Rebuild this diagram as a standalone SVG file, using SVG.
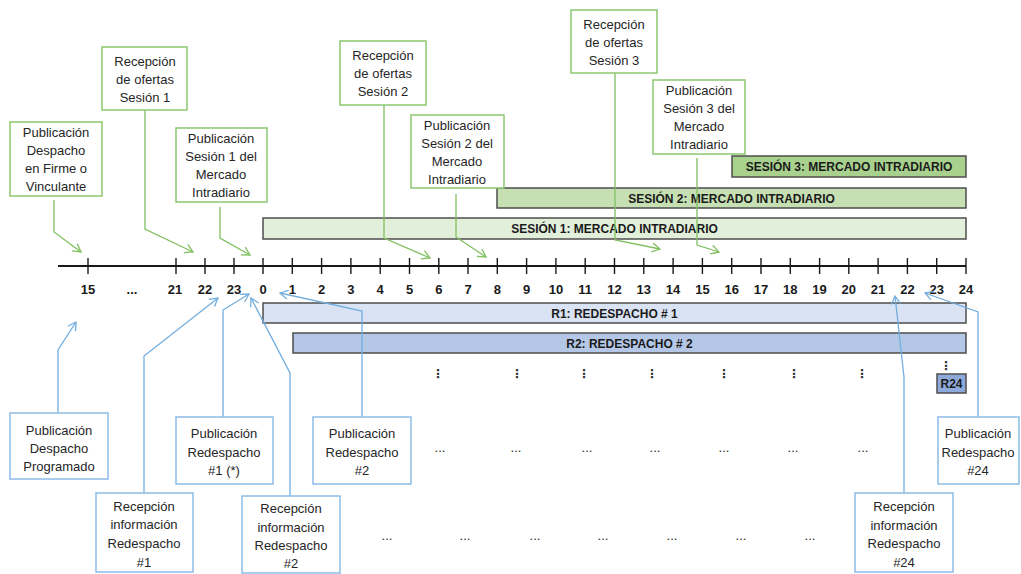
<svg xmlns="http://www.w3.org/2000/svg" width="1021" height="574" viewBox="0 0 1021 574">
<style>
.t{font-family:"Liberation Sans",Arial,sans-serif;font-size:13px;fill:#262626;text-anchor:middle}
.ax{font-family:"Liberation Sans",Arial,sans-serif;font-size:13px;font-weight:bold;fill:#1a1a1a;text-anchor:middle}
.bt{font-family:"Liberation Sans",Arial,sans-serif;font-size:12px;font-weight:bold;fill:#1a1a1a;text-anchor:middle}
.dots{font-family:"DejaVu Sans",sans-serif;font-size:12px;font-weight:bold;fill:#333;text-anchor:middle}
.gb{fill:#fff;stroke:#8cc870;stroke-width:1.5}
.bb{fill:#fff;stroke:#8dbce6;stroke-width:1.5}
.bar{stroke:#4d4d4d;stroke-width:1.5}
.gl{fill:none;stroke:#80c060;stroke-width:1.3;marker-end:url(#ga)}
.bl{fill:none;stroke:#73aee0;stroke-width:1.3;marker-end:url(#ba)}
.tick{stroke:#1a1a1a;stroke-width:1.4}
</style>
<defs>
<marker id="ga" markerUnits="userSpaceOnUse" markerWidth="12" markerHeight="12" refX="9" refY="5" orient="auto">
<path d="M1,0.5 L9,5 L1,9.5" fill="none" stroke="#80c060" stroke-width="1.3"/>
</marker>
<marker id="ba" markerUnits="userSpaceOnUse" markerWidth="12" markerHeight="12" refX="9" refY="5" orient="auto">
<path d="M1,0.5 L9,5 L1,9.5" fill="none" stroke="#73aee0" stroke-width="1.3"/>
</marker>
</defs>
<rect width="1021" height="574" fill="#fff"/>

<g id="axis">
<line x1="58" y1="266" x2="966" y2="266" stroke="#1a1a1a" stroke-width="2"/>
<g class="tick">
<line x1="88" y1="258" x2="88" y2="274"/><line x1="176" y1="258" x2="176" y2="274"/><line x1="205" y1="258" x2="205" y2="274"/><line x1="234" y1="258" x2="234" y2="274"/>
<line x1="263" y1="258" x2="263" y2="274"/><line x1="292.3" y1="258" x2="292.3" y2="274"/><line x1="321.6" y1="258" x2="321.6" y2="274"/><line x1="350.9" y1="258" x2="350.9" y2="274"/><line x1="380.2" y1="258" x2="380.2" y2="274"/><line x1="409.5" y1="258" x2="409.5" y2="274"/><line x1="438.8" y1="258" x2="438.8" y2="274"/><line x1="468" y1="258" x2="468" y2="274"/><line x1="497.3" y1="258" x2="497.3" y2="274"/><line x1="526.6" y1="258" x2="526.6" y2="274"/><line x1="555.9" y1="258" x2="555.9" y2="274"/><line x1="585.2" y1="258" x2="585.2" y2="274"/><line x1="614.5" y1="258" x2="614.5" y2="274"/><line x1="643.8" y1="258" x2="643.8" y2="274"/><line x1="673.1" y1="258" x2="673.1" y2="274"/><line x1="702.4" y1="258" x2="702.4" y2="274"/><line x1="731.7" y1="258" x2="731.7" y2="274"/><line x1="761" y1="258" x2="761" y2="274"/><line x1="790.3" y1="258" x2="790.3" y2="274"/><line x1="819.6" y1="258" x2="819.6" y2="274"/><line x1="848.8" y1="258" x2="848.8" y2="274"/><line x1="878.1" y1="258" x2="878.1" y2="274"/><line x1="907.4" y1="258" x2="907.4" y2="274"/><line x1="936.7" y1="258" x2="936.7" y2="274"/><line x1="966" y1="258" x2="966" y2="274"/>
</g>
<text class="ax" x="88" y="294">15</text><text class="ax" x="132" y="294">...</text><text class="ax" x="175" y="294">21</text><text class="ax" x="205" y="294">22</text><text class="ax" x="234" y="294">23</text>
<text class="ax" x="263" y="294">0</text><text class="ax" x="292.3" y="294">1</text><text class="ax" x="321.6" y="294">2</text><text class="ax" x="350.9" y="294">3</text><text class="ax" x="380.2" y="294">4</text><text class="ax" x="409.5" y="294">5</text><text class="ax" x="438.8" y="294">6</text><text class="ax" x="468" y="294">7</text><text class="ax" x="497.3" y="294">8</text><text class="ax" x="526.6" y="294">9</text><text class="ax" x="555.9" y="294">10</text><text class="ax" x="585.2" y="294">11</text><text class="ax" x="614.5" y="294">12</text><text class="ax" x="643.8" y="294">13</text><text class="ax" x="673.1" y="294">14</text><text class="ax" x="702.4" y="294">15</text><text class="ax" x="731.7" y="294">16</text><text class="ax" x="761" y="294">17</text><text class="ax" x="790.3" y="294">18</text><text class="ax" x="819.6" y="294">19</text><text class="ax" x="848.8" y="294">20</text><text class="ax" x="878.1" y="294">21</text><text class="ax" x="907.4" y="294">22</text><text class="ax" x="936.7" y="294">23</text><text class="ax" x="966" y="294">24</text>
</g>

<g id="sesion1"><rect class="bar" x="263" y="218" width="703" height="21" fill="#e2efda"/><text class="bt" x="614.5" y="233">SESIÓN 1: MERCADO INTRADIARIO</text></g>
<g id="sesion2"><rect class="bar" x="497" y="188" width="469" height="20" fill="#c6e0b4"/><text class="bt" x="731.5" y="202.5">SESIÓN 2: MERCADO INTRADIARIO</text></g>
<g id="sesion3"><rect class="bar" x="732" y="156" width="234" height="21" fill="#a9d18e"/><text class="bt" x="849" y="171">SESIÓN 3: MERCADO INTRADIARIO</text></g>
<g id="r1"><rect class="bar" x="263" y="303" width="703" height="20" fill="#dae3f3"/><text class="bt" x="614.5" y="317.5">R1: REDESPACHO # 1</text></g>
<g id="r2"><rect class="bar" x="293" y="333" width="673" height="20" fill="#b4c7e7"/><text class="bt" x="629.5" y="347.5">R2: REDESPACHO # 2</text></g>
<g id="r24"><rect class="bar" x="937" y="374" width="29" height="19" fill="#8eaadb"/><text class="bt" x="951.5" y="388">R24</text></g>

<g id="ellipses">
<text class="dots" x="438" y="378">⋮</text><text class="dots" x="517" y="378">⋮</text><text class="dots" x="584" y="378">⋮</text><text class="dots" x="652" y="378">⋮</text><text class="dots" x="724" y="378">⋮</text><text class="dots" x="794" y="378">⋮</text><text class="dots" x="862" y="378">⋮</text><text class="dots" x="946" y="370">⋮</text>
<text class="t" x="440" y="452">...</text><text class="t" x="516" y="452">...</text><text class="t" x="587" y="452">...</text><text class="t" x="655" y="452">...</text><text class="t" x="724" y="452">...</text><text class="t" x="793" y="452">...</text><text class="t" x="863" y="452">...</text>
<text class="t" x="387" y="540">...</text><text class="t" x="465" y="540">...</text><text class="t" x="535" y="540">...</text><text class="t" x="603" y="540">...</text><text class="t" x="672" y="540">...</text><text class="t" x="741" y="540">...</text><text class="t" x="810" y="540">...</text>
</g>

<g id="connectors">
<path class="gl" d="M54,200 V232 L81,252"/>
<path class="gl" d="M145,110 V229 L193,252"/>
<path class="gl" d="M220,207 V238 L250,255"/>
<path class="gl" d="M384,105 V238 L430,258"/>
<path class="gl" d="M456,194 V237 L486,257"/>
<path class="gl" d="M615,73 V240 L660,249"/>
<path class="gl" d="M697,158 V245 L719,252"/>
<path class="bl" d="M58,413 V350 L76,322"/>
<path class="bl" d="M144,493 V356 L218,298"/>
<path class="bl" d="M223,417 V310 L249,294"/>
<path class="bl" d="M290,496 V373 L251,298"/>
<path class="bl" d="M362,417 V311 L280,293"/>
<path class="bl" d="M904,493 V377 L895,296"/>
<path class="bl" d="M978,417 V312 L925,293"/>
</g>

<g id="pub-despacho-firme"><rect class="gb" x="10" y="122" width="92" height="74"/><text class="t" x="56" y="137">Publicación</text><text class="t" x="56" y="155">Despacho</text><text class="t" x="56" y="173">en Firme o</text><text class="t" x="56" y="191">Vinculante</text></g>
<g id="rec-ofertas-s1"><rect class="gb" x="102" y="47" width="85" height="63"/><text class="t" x="145" y="66">Recepción</text><text class="t" x="145" y="84">de ofertas</text><text class="t" x="145" y="102">Sesión 1</text></g>
<g id="pub-s1"><rect class="gb" x="176" y="128" width="91" height="74"/><text class="t" x="221" y="143">Publicación</text><text class="t" x="221" y="161">Sesión 1 del</text><text class="t" x="221" y="179">Mercado</text><text class="t" x="221" y="197">Intradiario</text></g>
<g id="rec-ofertas-s2"><rect class="gb" x="340" y="41" width="86" height="64"/><text class="t" x="383" y="60">Recepción</text><text class="t" x="383" y="78">de ofertas</text><text class="t" x="383" y="96">Sesión 2</text></g>
<g id="pub-s2"><rect class="gb" x="411" y="115" width="93" height="73"/><text class="t" x="457" y="130">Publicación</text><text class="t" x="457" y="148">Sesión 2 del</text><text class="t" x="457" y="166">Mercado</text><text class="t" x="457" y="184">Intradiario</text></g>
<g id="rec-ofertas-s3"><rect class="gb" x="571" y="10" width="86" height="63"/><text class="t" x="614" y="29">Recepción</text><text class="t" x="614" y="47">de ofertas</text><text class="t" x="614" y="65">Sesión 3</text></g>
<g id="pub-s3"><rect class="gb" x="653" y="80" width="92" height="74"/><text class="t" x="699" y="95">Publicación</text><text class="t" x="699" y="113">Sesión 3 del</text><text class="t" x="699" y="131">Mercado</text><text class="t" x="699" y="149">Intradiario</text></g>

<g id="pub-despacho-prog"><rect class="bb" x="10" y="413" width="98" height="66"/><text class="t" x="59" y="435">Publicación</text><text class="t" x="59" y="453">Despacho</text><text class="t" x="59" y="471">Programado</text></g>
<g id="rec-info-r1"><rect class="bb" x="96" y="493" width="97" height="79"/><text class="t" x="144" y="511">Recepción</text><text class="t" x="144" y="529">información</text><text class="t" x="144" y="548">Redespacho</text><text class="t" x="144" y="567">#1</text></g>
<g id="pub-r1"><rect class="bb" x="176" y="417" width="97" height="67"/><text class="t" x="224" y="438">Publicación</text><text class="t" x="224" y="457">Redespacho</text><text class="t" x="224" y="475">#1 (*)</text></g>
<g id="rec-info-r2"><rect class="bb" x="242" y="496" width="98" height="77"/><text class="t" x="291" y="513">Recepción</text><text class="t" x="291" y="532">información</text><text class="t" x="291" y="550">Redespacho</text><text class="t" x="291" y="568">#2</text></g>
<g id="pub-r2"><rect class="bb" x="313" y="417" width="98" height="67"/><text class="t" x="362" y="438">Publicación</text><text class="t" x="362" y="457">Redespacho</text><text class="t" x="362" y="475">#2</text></g>
<g id="rec-info-r24"><rect class="bb" x="855" y="493" width="98" height="79"/><text class="t" x="904" y="511">Recepción</text><text class="t" x="904" y="530">información</text><text class="t" x="904" y="548">Redespacho</text><text class="t" x="904" y="567">#24</text></g>
<g id="pub-r24"><rect class="bb" x="938" y="417" width="81" height="67"/><text class="t" x="978" y="438">Publicación</text><text class="t" x="978" y="457">Redespacho</text><text class="t" x="978" y="475">#24</text></g>
</svg>
